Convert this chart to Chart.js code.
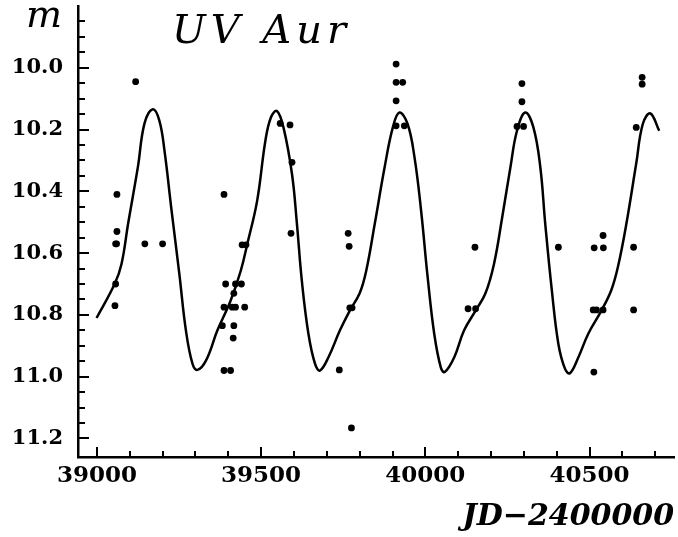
<!DOCTYPE html>
<html>
<head>
<meta charset="utf-8">
<script src="https://cdn.jsdelivr.net/npm/chart.js@4.4.1/dist/chart.umd.min.js"></script>
<style>
  html, body { margin: 0; padding: 0; background: #ffffff; }
  #wrap { width: 678px; height: 537px; }
</style>
</head>
<body>
<div id="wrap"><canvas id="lc" width="678" height="537"></canvas></div>
<script>
// UV Aur light curve: observed magnitudes and the smooth mean curve.
const starName = 'UV Aur';
const magLabel = 'm';
const timeLabel = 'JD\u22122400000';

// Axis ticks (every tick mark) and the labelled ones.
const xTickValues = [39000, 39100, 39200, 39300, 39400, 39500, 39600, 39700, 39800, 39900,
                     40000, 40100, 40200, 40300, 40400, 40500, 40600, 40700];
const xTickLabels = [39000, 39500, 40000, 40500];
const yTickValues = [9.85, 9.90, 9.95, 10.00, 10.05, 10.10, 10.15, 10.20, 10.25, 10.30,
                     10.35, 10.40, 10.45, 10.50, 10.55, 10.60, 10.65, 10.70, 10.75, 10.80,
                     10.85, 10.90, 10.95, 11.00, 11.05, 11.10, 11.15, 11.20];
const yTickLabels = [10.0, 10.2, 10.4, 10.6, 10.8, 11.0, 11.2];

// Observations
const obsJD = [39055, 39057, 39057, 39060, 39061, 39061, 39118, 39146, 39200,
               39387, 39407, 39387, 39392, 39422, 39440, 39417, 39387, 39412, 39422, 39450,
               39382, 39417, 39415, 39442, 39454,
               39558, 39588, 39594, 39591,
               39738, 39765, 39768, 39770, 39777, 39775,
               39911, 39911, 39931, 39911, 39911, 39936,
               40130, 40153, 40151,
               40279, 40299, 40294, 40294,
               40405, 40511, 40521, 40541, 40513, 40514, 40542, 40541,
               40634, 40634, 40642, 40660, 40660];
const obsMag = [10.77, 10.70, 10.57, 10.57, 10.53, 10.41, 10.045, 10.57, 10.57,
                10.98, 10.98, 10.41, 10.70, 10.70, 10.70, 10.73, 10.775, 10.775, 10.775, 10.775,
                10.835, 10.835, 10.875, 10.573, 10.573,
                10.18, 10.185, 10.306, 10.536,
                10.978, 10.536, 10.578, 10.777, 10.777, 11.166,
                9.988, 10.047, 10.047, 10.107, 10.188, 10.188,
                10.78, 10.78, 10.581,
                10.19, 10.19, 10.11, 10.051,
                10.581, 10.784, 10.784, 10.784, 10.985, 10.583, 10.583, 10.543,
                10.581, 10.784, 10.193, 10.031, 10.053];

// Mean light curve
const fitJD = [38999, 39054, 39075, 39095, 39125, 39145, 39170, 39190, 39206, 39226,
               39251, 39271, 39291, 39306, 39332, 39367, 39407, 39438, 39458, 39488,
               39513, 39530, 39548, 39568, 39594, 39609, 39624, 39644, 39664, 39679,
               39705, 39740, 39770, 39800, 39820, 39846, 39876, 39901, 39921, 39946,
               39967, 39987, 40007, 40027, 40047, 40059, 40088, 40118, 40153, 40183,
               40209, 40234, 40259, 40279, 40304, 40329, 40350, 40365, 40385, 40405,
               40425, 40440, 40466, 40496, 40536, 40566, 40586, 40612, 40642, 40662,
               40685, 40712];
const fitMag = [10.81, 10.70, 10.635, 10.505, 10.32, 10.18, 10.134, 10.17, 10.27, 10.45,
                10.667, 10.85, 10.958, 10.978, 10.948, 10.85, 10.754, 10.657, 10.57, 10.43,
                10.236, 10.16, 10.14, 10.193, 10.344, 10.505, 10.69, 10.861, 10.958, 10.98,
                10.937, 10.85, 10.786, 10.73, 10.657, 10.505, 10.322, 10.193, 10.145, 10.182,
                10.29, 10.462, 10.678, 10.861, 10.97, 10.985, 10.937, 10.85, 10.786, 10.73,
                10.635, 10.484, 10.322, 10.204, 10.145, 10.193, 10.322, 10.505, 10.72, 10.894,
                10.974, 10.989, 10.937, 10.861, 10.786, 10.72, 10.646, 10.505, 10.31, 10.182,
                10.148, 10.204];

const ink = '#000000';
const serif = '"DejaVu Serif", serif';

// Tick marks pointing into the plot, longer at labelled values.
const inwardTicks = {
  id: 'inwardTicks',
  afterDatasetsDraw(chart) {
    const { ctx, chartArea, scales } = chart;
    ctx.save();
    ctx.strokeStyle = ink;
    ctx.lineWidth = 2;
    scales.x.ticks.forEach(t => {
      const px = Math.round(scales.x.getPixelForValue(t.value));
      const len = xTickLabels.includes(t.value) ? 10 : 6;
      ctx.beginPath();
      ctx.moveTo(px, chartArea.bottom);
      ctx.lineTo(px, chartArea.bottom - len);
      ctx.stroke();
    });
    scales.y.ticks.forEach(t => {
      const py = Math.round(scales.y.getPixelForValue(t.value));
      const major = yTickLabels.some(v => Math.abs(v - t.value) < 1e-6);
      const len = major ? 11 : 7;
      ctx.beginPath();
      ctx.moveTo(chartArea.left, py);
      ctx.lineTo(chartArea.left + len, py);
      ctx.stroke();
    });
    ctx.restore();
  }
};

// Star name inside the plot and the magnitude symbol over the y axis.
const captions = {
  id: 'captions',
  afterDraw(chart) {
    const { ctx } = chart;
    ctx.save();
    ctx.fillStyle = ink;
    ctx.textBaseline = 'alphabetic';
    ctx.textAlign = 'left';
    ctx.font = 'italic 40px ' + serif;
    if ('letterSpacing' in ctx) ctx.letterSpacing = '5px';
    ctx.fillText(starName, 172, 43);
    if ('letterSpacing' in ctx) ctx.letterSpacing = '0px';
    ctx.font = 'italic 38px ' + serif;
    ctx.fillText(magLabel, 26, 27);
    ctx.restore();
  }
};

new Chart(document.getElementById('lc'), {
  type: 'scatter',
  data: {
    datasets: [
      {
        label: 'mean curve',
        data: fitJD.map((x, i) => ({ x, y: fitMag[i] })),
        showLine: true,
        tension: 0.4,
        pointRadius: 0,
        borderColor: ink,
        borderWidth: 2.5,
        fill: false
      },
      {
        label: 'observations',
        data: obsJD.map((x, i) => ({ x, y: obsMag[i] })),
        showLine: false,
        pointRadius: 3.4,
        pointBorderWidth: 0,
        backgroundColor: ink,
        borderColor: ink
      }
    ]
  },
  options: {
    responsive: false,
    animation: false,
    devicePixelRatio: 1,
    layout: { padding: { top: 6, right: 0, bottom: 0, left: 0 } },
    plugins: { legend: { display: false }, tooltip: { enabled: false } },
    scales: {
      x: {
        type: 'linear',
        min: 38942.5,
        max: 40757,
        afterBuildTicks: s => { s.ticks = xTickValues.map(v => ({ value: v })); },
        afterFit: s => { s.height = 80; s.paddingLeft = 0; s.paddingRight = 0; },
        grid: { display: false, drawTicks: false, tickLength: 0 },
        border: { display: true, color: ink, width: 2.5 },
        ticks: {
          autoSkip: false,
          maxRotation: 0,
          padding: 8,
          color: ink,
          font: { family: serif, weight: 'bold', size: 23, lineHeight: 1 },
          callback: v => (xTickLabels.includes(v) ? String(v) : '')
        },
        title: {
          display: true,
          text: timeLabel,
          align: 'end',
          color: ink,
          padding: { top: 0, bottom: 5 },
          font: { family: serif, weight: 'bold', style: 'italic', size: 30, lineHeight: 1 }
        }
      },
      y: {
        type: 'linear',
        reverse: true,
        min: 9.8,
        max: 11.26,
        afterBuildTicks: s => { s.ticks = yTickValues.map(v => ({ value: v })); },
        afterFit: s => { s.width = 78; s.paddingTop = 0; s.paddingBottom = 0; },
        grid: { display: false, drawTicks: false, tickLength: 0 },
        border: { display: true, color: ink, width: 2.5 },
        ticks: {
          autoSkip: false,
          padding: 15,
          color: ink,
          font: { family: serif, weight: 'bold', size: 21 },
          callback: v => {
            const hit = yTickLabels.find(l => Math.abs(l - v) < 1e-6);
            return hit === undefined ? '' : hit.toFixed(1);
          }
        }
      }
    }
  },
  plugins: [inwardTicks, captions]
});
</script>
</body>
</html>
